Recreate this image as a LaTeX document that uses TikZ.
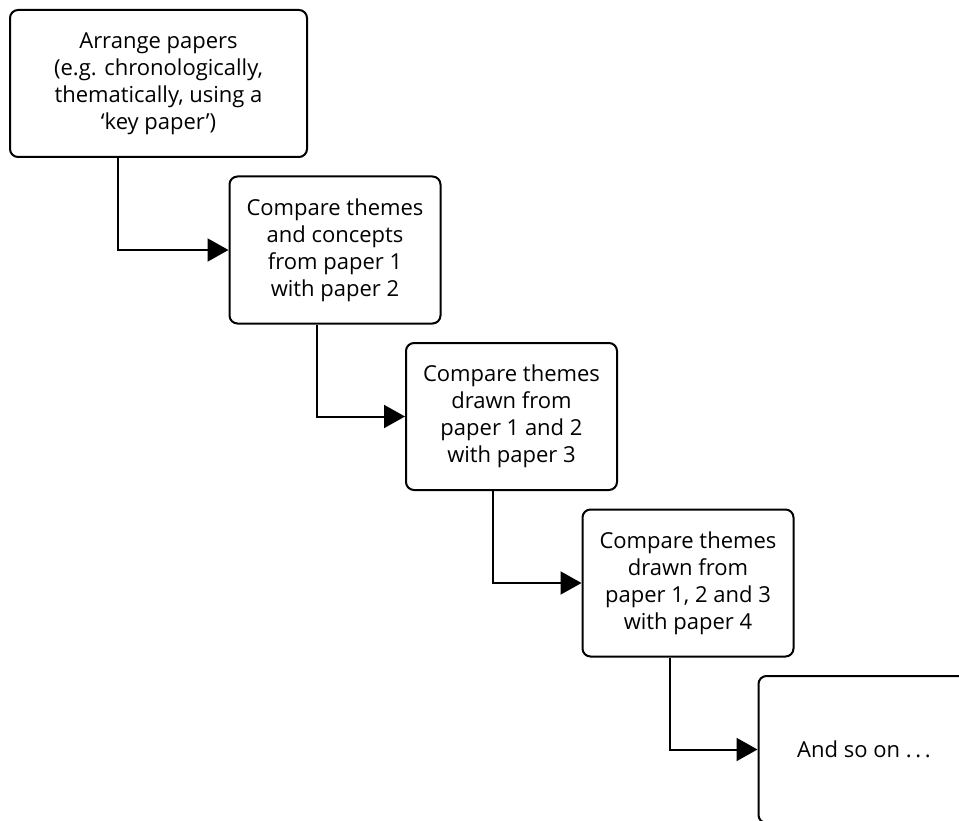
\documentclass[tikz,border=0pt]{standalone}
\usepackage{fontspec}
\setmainfont{Open Sans}
\usetikzlibrary{arrows.meta}
\tikzset{
  stage/.style={draw, line width=2pt, rounded corners=8pt, align=center,
    minimum width=211pt, minimum height=147pt, inner sep=0pt,
    font=\fontsize{22}{27}\selectfont},
  link/.style={line width=2pt, -{Triangle[length=21pt,width=23pt]}}
}
\begin{document}
\begin{tikzpicture}[x=1pt,y=-1pt]
  \useasboundingbox (0,0) rectangle (959,821);
  \clip (0,0) rectangle (959,821);
  \node[stage, minimum width=297pt] (arrange) at (158.5,83.5)
    {Arrange papers\\(e.g. chronologically,\\thematically, using a\\‘key paper’)};
  \node[stage] (paper2) at (335,250)
    {Compare themes\\and concepts\\from paper 1\\with paper 2};
  \node[stage] (paper3) at (511.5,416.5)
    {Compare themes\\drawn from\\paper 1 and 2\\with paper 3};
  \node[stage] (paper4) at (688,583)
    {Compare themes\\drawn from\\paper 1, 2 and 3\\with paper 4};
  \node[stage] (soon) at (864,749.5) {And so on .\,.\,.};
  % connectors
  \draw[link] ([xshift=109pt]arrange.south west) |- (paper2.west);
  \draw[link] ([xshift=88pt]paper2.south west) |- (paper3.west);
  \draw[link] ([xshift=88pt]paper3.south west) |- (paper4.west);
  \draw[link] ([xshift=88pt]paper4.south west) |- (soon.west);
\end{tikzpicture}
\end{document}
